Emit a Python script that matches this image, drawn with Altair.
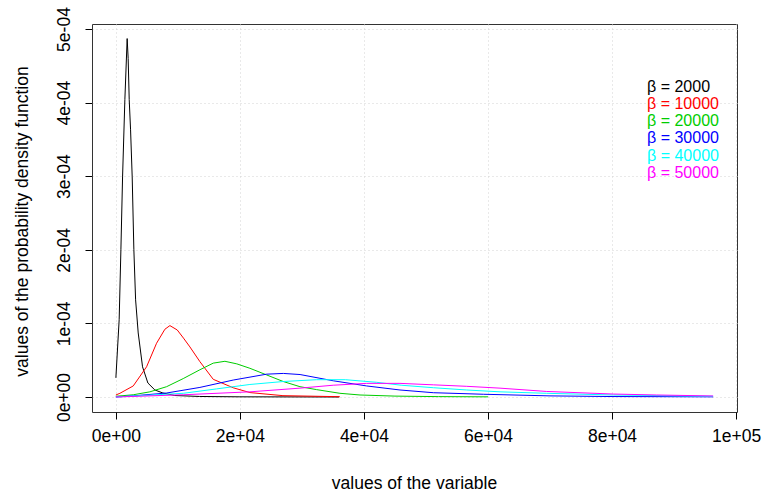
import altair as alt
import pandas as pd

# Axis ticks and their R-style scientific labels
x_ticks = [0, 20000, 40000, 60000, 80000, 100000]
x_tick_labels = ["0e+00", "2e+04", "4e+04", "6e+04", "8e+04", "1e+05"]
y_ticks = [0, 1e-4, 2e-4, 3e-4, 4e-4, 5e-4]
y_tick_labels = ["0e+00", "1e-04", "2e-04", "3e-04", "4e-04", "5e-04"]

# One density curve per scale parameter beta
series_labels = ["β = 2000", "β = 10000", "β = 20000", "β = 30000", "β = 40000", "β = 50000"]
series_colors = ["#000000", "#FF0000", "#00CD00", "#0000FF", "#00FFFF", "#FF00FF"]

x_b2000 = [0, 530, 810, 1080, 1450, 1820, 1980, 2150, 2370, 2630, 2900, 3180, 3600,
           4300, 5160, 6290, 7580, 9500, 13500, 20000, 36000]
y_b2000 = [2.6e-5, 1.05e-4, 2.0e-4, 2.99e-4, 4.04e-4, 4.87e-4, 4.6e-4, 4.04e-4, 3.63e-4,
           2.99e-4, 2.0e-4, 1.32e-4, 8.7e-5, 4.1e-5, 1.9e-5, 9.5e-6, 5.4e-6, 2.0e-6,
           7e-7, 2e-7, 0.0]

x_b10000 = [0, 650, 2800, 4950, 6560, 7900, 8710, 9900, 10900, 11940, 13550, 15700,
            18920, 21610, 26940, 36100]
y_b10000 = [2.7e-6, 5e-6, 1.5e-5, 4.1e-5, 7.3e-5, 9.2e-5, 9.7e-5, 9.1e-5, 8.0e-5, 6.8e-5,
            4.8e-5, 2.4e-5, 1.25e-5, 6e-6, 1.8e-6, 4e-7]

x_b20000 = [0, 2800, 5480, 8180, 10860, 13550, 15700, 17580, 19500, 21610, 24300, 26990,
            29680, 32370, 36130, 39360, 45000, 52000, 60000]
y_b20000 = [1e-6, 3e-6, 7e-6, 1.4e-5, 2.5e-5, 3.7e-5, 4.6e-5, 4.85e-5, 4.5e-5, 3.9e-5,
            3.0e-5, 2.1e-5, 1.4e-5, 1.0e-5, 5e-6, 2.7e-6, 1.2e-6, 5e-7, 2e-7]

x_b30000 = [0, 2800, 8180, 13550, 18920, 24300, 27000, 29700, 35050, 40440, 45810,
            51190, 59250, 70000, 80000, 96300]
y_b30000 = [0.0, 1.5e-6, 5.4e-6, 1.3e-5, 2.3e-5, 3.1e-5, 3.2e-5, 3.05e-5, 2.2e-5, 1.5e-5,
            9.5e-6, 5.8e-6, 3.7e-6, 1.5e-6, 6e-7, 2e-7]

x_b40000 = [0, 10860, 16240, 21610, 26990, 32370, 37000, 42000, 46000, 51190, 56570,
            61940, 69470, 80200, 96300]
y_b40000 = [0.0, 5e-6, 1.1e-5, 1.7e-5, 2.1e-5, 2.35e-5, 2.35e-5, 2.0e-5, 1.6e-5, 1.26e-5,
            9.5e-6, 7e-6, 5e-6, 2.7e-6, 1e-6]

x_b50000 = [0, 10860, 21610, 29680, 35050, 40440, 45810, 51190, 56570, 61940, 69470,
            80200, 87200, 96300]
y_b50000 = [0.0, 3e-6, 7e-6, 1.2e-5, 1.6e-5, 1.85e-5, 1.85e-5, 1.65e-5, 1.45e-5, 1.2e-5,
            7.5e-6, 4e-6, 2.7e-6, 1.4e-6]

curves = [
    (x_b2000, y_b2000),
    (x_b10000, y_b10000),
    (x_b20000, y_b20000),
    (x_b30000, y_b30000),
    (x_b40000, y_b40000),
    (x_b50000, y_b50000),
]

FONT = "Liberation Sans"
FONT_SIZE = 17.5
LEGEND_FONT_SIZE = 16

x_label_expr = "{}[round(datum.value / 20000)]".format(x_tick_labels)
y_label_expr = "{}[round(datum.value * 10000)]".format(y_tick_labels)

x_enc = alt.X(
    "x:Q",
    scale=alt.Scale(domain=[-3850, 100150], nice=False, zero=False),
    axis=alt.Axis(
        values=x_ticks,
        labelExpr=x_label_expr,
        title="values of the variable",
        titleX=322,
        titleY=71,
        titleBaseline="middle",
        labelPadding=8,
        labelBaseline="top",
        labelFlush=False,
        labelOverlap=False,
    ),
)
y_enc = alt.Y(
    "y:Q",
    scale=alt.Scale(domain=[-2.04e-5, 5.068e-4], nice=False, zero=False),
    axis=alt.Axis(
        values=y_ticks,
        labelExpr=y_label_expr,
        labelAngle=270,
        labelAlign="center",
        labelBaseline="bottom",
        labelPadding=12,
        labelFlush=False,
        labelOverlap=False,
        title="values of the probability density function",
        titleAngle=270,
        titleAlign="center",
        titleBaseline="middle",
        titleX=-70,
        titleY=197,
    ),
)

layers = []
for (xs, ys), color in zip(curves, series_colors):
    df = pd.DataFrame({"x": xs, "y": ys})
    layers.append(
        alt.Chart(df).mark_line(color=color, strokeWidth=1, clip=True).encode(x=x_enc, y=y_enc)
    )

legend_df = pd.DataFrame({
    "label": series_labels,
    "color": series_colors,
    "row": list(range(len(series_labels))),
})
legend_text = (
    alt.Chart(legend_df)
    .transform_calculate(ypix="62.5 + datum.row * 17.3")
    .mark_text(align="left", baseline="middle", font=FONT, fontSize=LEGEND_FONT_SIZE)
    .encode(
        x=alt.value(555),
        y=alt.Y("ypix:Q", scale=None),
        text="label:N",
        color=alt.Color("color:N", scale=None),
    )
)

chart = (
    alt.layer(*layers, legend_text)
    .properties(
        width=645,
        height=388,
        autosize=alt.AutoSizeParams(type="none"),
        padding={"left": 92, "top": 24, "right": 26, "bottom": 86},
        background="white",
    )
    .configure_view(stroke="#333333", strokeWidth=1)
    .configure_axis(
        domain=False,
        grid=True,
        gridColor="#D3D3D3",
        gridDash=[1, 3],
        gridWidth=1,
        ticks=True,
        tickColor="#000000",
        tickSize=7,
        tickWidth=1,
        labelFont=FONT,
        labelFontSize=FONT_SIZE,
        labelColor="#000000",
        titleFont=FONT,
        titleFontSize=FONT_SIZE,
        titleFontWeight="normal",
        titleColor="#000000",
    )
)

chart.save("out.html", embed_options={"renderer": "svg", "actions": False})
